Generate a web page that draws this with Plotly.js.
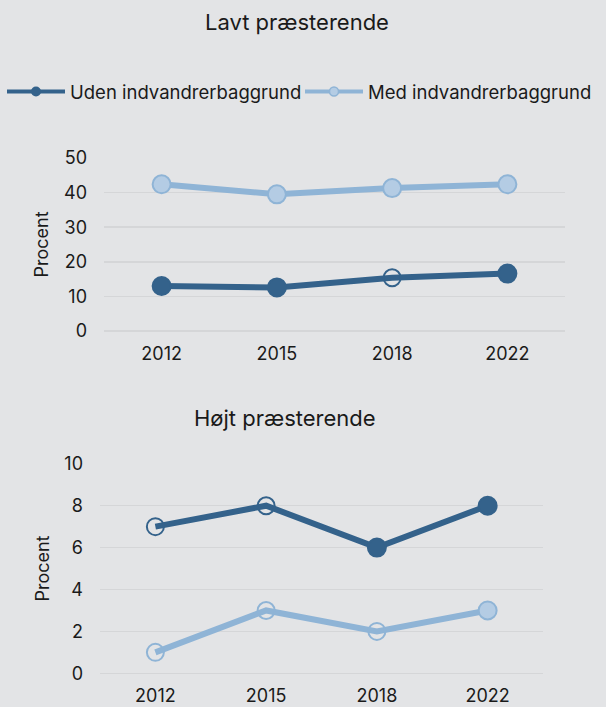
<!DOCTYPE html>
<html>
<head>
<meta charset="utf-8">
<script src="https://cdn.plot.ly/plotly-3.0.1.min.js"></script>
<style>
  html, body { margin: 0; padding: 0; background: #e3e4e6; }
  #chart { width: 606px; height: 707px; }
</style>
</head>
<body>
<div id="chart"></div>
<script>
// ---- Data ----
const years = ['2012', '2015', '2018', '2022'];
const seriesNames = ['Uden indvandrerbaggrund', 'Med indvandrerbaggrund'];
const panelTitles = ['Lavt præsterende', 'Højt præsterende'];
const yAxisTitle = 'Procent';

const lowUden = [13.0, 12.6, 15.4, 16.6];
const lowMed = [42.4, 39.5, 41.3, 42.4];
const highUden = [7, 8, 6, 8];
const highMed = [1, 3, 2, 3];

// open (hollow) markers
const lowUdenOpen = [false, false, true, false];
const lowMedOpen = [false, false, false, false];
const highUdenOpen = [true, true, false, false];
const highMedOpen = [true, true, true, false];

// ---- Styles ----
const DARK = '#34628b';
const LIGHT_LINE = '#8fb4d6';
const LIGHT_FILL = '#b4cce4';
const BG = '#e3e4e6';
const GRID = '#d5d6d8';
const TEXT = '#1a1a1a';
const FONT = 'Inter, "Noto Sans", sans-serif';

function darkTrace(y, open, xa, ya) {
  return {
    type: 'scatter', mode: 'lines+markers', x: years, y: y,
    xaxis: xa, yaxis: ya, showlegend: false, cliponaxis: false,
    line: { color: DARK, width: 6 },
    marker: {
      opacity: 1,
      symbol: open.map(o => o ? 'circle-open' : 'circle'),
      size: open.map(o => o ? 17 : 18),
      color: DARK,
      line: { color: DARK, width: 2 }
    },
    hoverinfo: 'x+y'
  };
}
function lightTrace(y, open, xa, ya) {
  return {
    type: 'scatter', mode: 'lines+markers', x: years, y: y,
    xaxis: xa, yaxis: ya, showlegend: false, cliponaxis: false,
    line: { color: LIGHT_LINE, width: 6 },
    marker: {
      opacity: 1,
      symbol: open.map(o => o ? 'circle-open' : 'circle'),
      size: open.map(o => o ? 17 : 18),
      color: open.map(o => o ? LIGHT_LINE : LIGHT_FILL),
      line: { color: LIGHT_LINE, width: 2 }
    },
    hoverinfo: 'x+y'
  };
}

const traces = [
  darkTrace(lowUden, lowUdenOpen, 'x', 'y'),
  lightTrace(lowMed, lowMedOpen, 'x', 'y'),
  darkTrace(highUden, highUdenOpen, 'x2', 'y2'),
  lightTrace(highMed, highMedOpen, 'x2', 'y2'),
  // legend entries
  { type: 'scatter', mode: 'lines+markers', x: [null], y: [null], name: seriesNames[0],
    line: { color: DARK, width: 4 }, marker: { color: DARK, size: 10, opacity: 1 }, showlegend: true },
  { type: 'scatter', mode: 'lines+markers', x: [null], y: [null], name: seriesNames[1],
    line: { color: LIGHT_LINE, width: 4 }, marker: { color: LIGHT_FILL, size: 9, opacity: 1, line: { color: LIGHT_LINE, width: 1.5 } }, showlegend: true }
];

const W = 606, H = 707;
const xAxisBase = {
  type: 'category', range: [-0.5, 3.5], showgrid: false, zeroline: false, showline: false,
  ticks: '', tickfont: { family: FONT, size: 18, color: TEXT }, ticklabelstandoff: 10,
  automargin: false, fixedrange: true
};
const yAxisBase = {
  showgrid: true, gridcolor: GRID, gridwidth: 1.5, zeroline: true, zerolinecolor: GRID, zerolinewidth: 1.5,
  showline: false, ticks: '', tickfont: { family: FONT, size: 18, color: TEXT }, ticklabelstandoff: 16,
  automargin: false, fixedrange: true,
  title: { text: yAxisTitle, font: { family: FONT, size: 18, color: TEXT }, standoff: 10 }
};

const layout = {
  width: W, height: H,
  paper_bgcolor: BG, plot_bgcolor: BG,
  margin: { l: 0, r: 0, t: 0, b: 0, autoexpand: false },
  font: { family: FONT, color: TEXT },
  showlegend: true,
  legend: {
    orientation: 'h', x: 2 / W, xanchor: 'left', y: 1 - 92 / H, yanchor: 'middle',
    itemwidth: 58, entrywidth: 225, entrywidthmode: 'pixels',
    font: { family: FONT, size: 18.5, color: TEXT }, bgcolor: 'rgba(0,0,0,0)'
  },
  xaxis: Object.assign({}, xAxisBase, { domain: [104 / W, 565 / W], anchor: 'y' }),
  yaxis: Object.assign({}, yAxisBase, { domain: [1 - 331 / H, 1 - 158 / H], range: [0, 50], dtick: 10, anchor: 'x' }),
  xaxis2: Object.assign({}, xAxisBase, { domain: [100 / W, 543 / W], anchor: 'y2' }),
  yaxis2: Object.assign({}, yAxisBase, { domain: [1 - 673.3 / H, 1 - 463.8 / H], range: [0, 10], dtick: 2, anchor: 'x2' }),
  annotations: [
    { text: panelTitles[0], xref: 'paper', yref: 'paper', x: 297 / W, y: 1 - 22 / H,
      xanchor: 'center', yanchor: 'middle', showarrow: false, font: { family: FONT, size: 22, color: TEXT } },
    { text: panelTitles[1], xref: 'paper', yref: 'paper', x: 285 / W, y: 1 - 418 / H,
      xanchor: 'center', yanchor: 'middle', showarrow: false, font: { family: FONT, size: 22, color: TEXT } }
  ]
};

Plotly.newPlot('chart', traces, layout, { displayModeBar: false, staticPlot: true });
</script>
</body>
</html>
